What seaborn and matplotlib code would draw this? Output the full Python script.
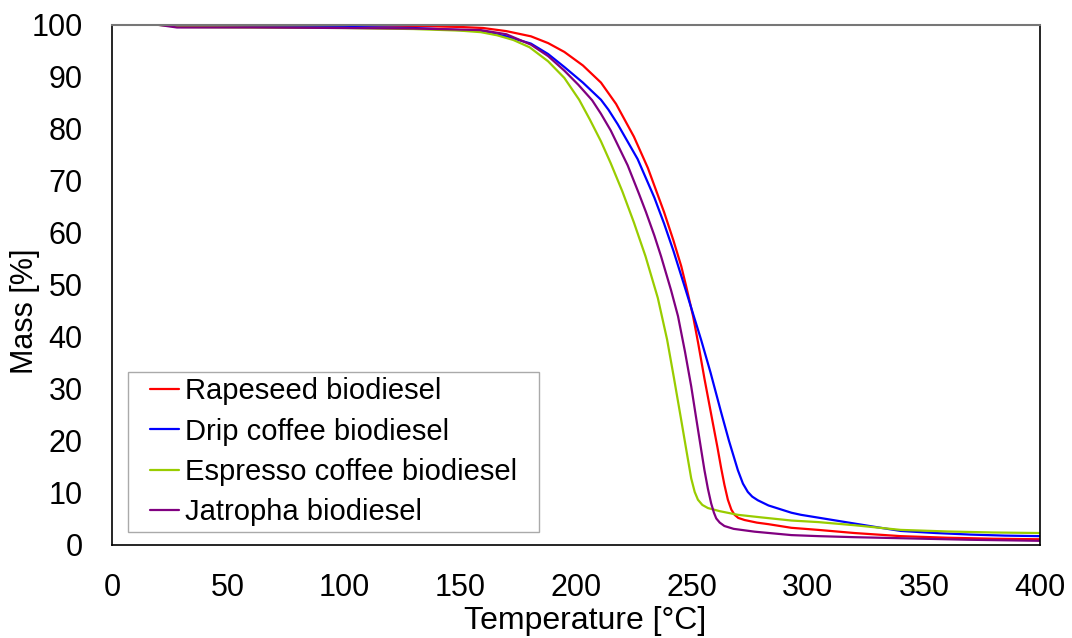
import matplotlib
matplotlib.use("Agg")
import matplotlib.pyplot as plt
from matplotlib.patches import Rectangle
import seaborn as sns
import pandas as pd

series_names = ["Rapeseed biodiesel", "Drip coffee biodiesel",
                "Espresso coffee biodiesel", "Jatropha biodiesel"]
colors = ["#FF0000", "#0000FF", "#99CC00", "#800080"]

rapeseed_T = [20, 60, 100, 130, 150, 160, 170, 180.6, 188, 195, 203, 210.8, 217.3, 225,
              231, 238, 242, 245.4, 247.5, 250.5, 252.7, 255.4, 259, 261, 262.6, 264, 265.5,
              267, 268.4, 270, 272.7, 278, 283, 292.9, 304.5, 320, 340, 360, 380, 400]
rapeseed_M = [100, 99.9, 99.9, 99.8, 99.6, 99.4, 98.8, 97.8, 96.5, 94.8, 92.2, 88.9, 84.8, 78.5,
              72.5, 64, 58.6, 53.6, 49.8, 44, 38.8, 32, 23.5, 18.8, 14.8, 11.6, 8.7,
              6.8, 5.8, 5.2, 4.8, 4.3, 4.0, 3.3, 2.9, 2.3, 1.7, 1.4, 1.2, 1.1]

drip_T = [20, 60, 100, 130, 150, 159, 170, 180.6, 188, 195, 203, 210.8, 214, 218, 226.6,
          233.8, 238, 242, 247, 254, 258, 262.6, 266, 269.8, 272, 274.1, 276, 278.4, 283,
          292.9, 297, 308, 319, 330, 340, 355, 370, 385, 400]
drip_M = [100, 99.8, 99.6, 99.4, 99.0, 98.8, 97.8, 96.4, 94.4, 91.9, 88.9, 85.6, 83.7, 80.9,
          74.2, 66.8, 61.8, 56.6, 49.5, 39.4, 33.2, 25.5, 20, 14.4, 11.8, 10.2, 9.3, 8.6, 7.6,
          6.2, 5.8, 5, 4.2, 3.4, 2.7, 2.3, 2.0, 1.8, 1.7]

espresso_T = [20, 30, 60, 100, 130, 150, 159, 166, 173, 180, 188, 195, 201.4, 206, 210.8, 215,
              220, 225, 230, 235.3, 239.3, 242.3, 245.4, 247.5, 249.7, 251.2, 252.6, 254.5,
              256.9, 262, 269.8, 280, 292.9, 304.5, 320, 340, 360, 380, 400]
espresso_M = [100, 99.6, 99.5, 99.4, 99.2, 98.9, 98.6, 98, 97.1, 95.7, 93.0, 89.8, 85.6, 81.8,
              77.6, 73.4, 68, 62, 55.5, 47.5, 39.5, 32, 24, 18.5, 12.8, 10.2, 8.7, 7.7,
              7.1, 6.5, 5.8, 5.3, 4.7, 4.4, 3.8, 2.9, 2.6, 2.4, 2.3]

jatropha_T = [20, 28, 60, 100, 130, 150, 159, 170, 180.6, 188, 195, 201, 207, 210.8, 215,
              222.3, 227.2, 230.2, 233.8, 236.7, 241, 244, 247, 249.7, 251.8, 254, 255.4,
              256.9, 258.3, 259.5, 260.5, 262, 264, 268, 277, 292.9, 304.5, 320, 340, 370, 400]
jatropha_M = [100, 99.5, 99.5, 99.4, 99.3, 99.1, 99.0, 98.2, 96.2, 94, 91.2, 88.5, 85.5, 82.9,
              79.7, 73, 67.5, 64, 59.5, 55.5, 49, 44, 37.2, 30.5, 24.5, 18.3, 14.4,
              10.8, 8, 6.2, 5.1, 4.3, 3.65, 3.1, 2.56, 1.9, 1.7, 1.5, 1.3, 1.0, 0.8]

x_ticks = [0, 50, 100, 150, 200, 250, 300, 350, 400]
y_ticks = [0, 10, 20, 30, 40, 50, 60, 70, 80, 90, 100]

frames = []
for name, T, M in [(series_names[0], rapeseed_T, rapeseed_M),
                   (series_names[1], drip_T, drip_M),
                   (series_names[2], espresso_T, espresso_M),
                   (series_names[3], jatropha_T, jatropha_M)]:
    frames.append(pd.DataFrame({"Temperature": T, "Mass": M, "Sample": name}))
df = pd.concat(frames, ignore_index=True)

sns.set_style("white")
plt.rcParams['font.family'] = ['Liberation Sans', 'DejaVu Sans']
plt.rcParams['text.color'] = 'black'
plt.rcParams['axes.labelcolor'] = 'black'
plt.rcParams['xtick.color'] = 'black'
plt.rcParams['ytick.color'] = 'black'

fig = plt.figure(figsize=(10.72, 6.38), dpi=100)
ax = fig.add_axes([0.1045, 0.1458, 0.8655, 0.8152])

sns.lineplot(data=df, x="Temperature", y="Mass", hue="Sample",
             hue_order=series_names, palette=colors, sort=False,
             estimator=None, linewidth=1.6, ax=ax)

ax.set_xlim(0, 400)
ax.set_ylim(0, 100)
ax.set_xticks(x_ticks)
ax.set_yticks(y_ticks)
ax.tick_params(axis="both", direction="in", length=9, width=1, color="#BBBBBB",
               labelsize=22, labelcolor="black")
ax.tick_params(axis="x", pad=20)
ax.tick_params(axis="y", pad=21)
ax.set_xlabel("Temperature [°C]", fontsize=23, labelpad=2, color="black")
ax.set_ylabel("Mass [%]", fontsize=22, labelpad=-6, color="black")
ax.xaxis.label.set_x(0.5097)
ax.yaxis.label.set_y(0.45)

for side in ["left", "bottom", "right"]:
    ax.spines[side].set_color("black")
    ax.spines[side].set_linewidth(1.2)
ax.spines["top"].set_color("#777777")
ax.spines["top"].set_linewidth(1.5)

leg = ax.legend(loc="lower left", bbox_to_anchor=(0.0345, 0.025), fontsize=21,
                handlelength=1.0, handletextpad=0.2, borderpad=0.2,
                labelspacing=0.42, borderaxespad=0.0, fancybox=False, frameon=True)
leg.set_zorder(6)
for line in leg.get_lines():
    line.set_linewidth(1.6)
for t in leg.get_texts():
    t.set_color("black")

# wider frame behind the legend (extra horizontal padding like the reference)
fig.canvas.draw()
bb = leg.get_window_extent()
leg.get_frame().set_visible(False)
hpad = 16
frame = Rectangle((bb.x0 - hpad, bb.y0), bb.width + 2 * hpad, bb.height,
                  transform=None, facecolor="white", edgecolor="#AAAAAA",
                  linewidth=1.0, zorder=5.5)
ax.add_patch(frame)

fig.savefig("out.png", dpi=100)
